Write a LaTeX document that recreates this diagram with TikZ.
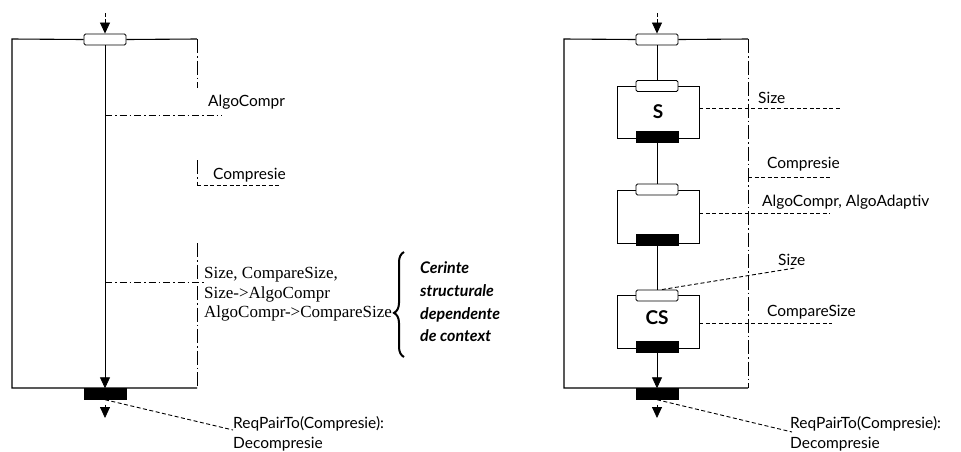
\documentclass[tikz,border=0pt]{standalone}
\usepackage{fontspec}
\setmainfont{Lato}
\newfontfamily\serifa{Liberation Serif}
\usetikzlibrary{arrows.meta,decorations.pathreplacing,calc}
\begin{document}
\begin{tikzpicture}[x=1pt,y=-1pt,
  inport/.style={draw,fill=white,rounded corners=1.5pt,minimum width=42pt,minimum height=11pt,inner sep=0pt,line width=0.9pt},
  outport/.style={fill=black,draw=black,minimum width=42pt,minimum height=11pt,inner sep=0pt},
  comp/.style={draw,minimum width=82pt,minimum height=52pt,inner sep=0pt,line width=0.9pt,font=\bfseries\fontsize{19}{20}\selectfont},
  lbl/.style={anchor=base west,inner sep=0pt,font=\fontsize{15.5}{18}\selectfont},
  slbl/.style={anchor=base west,inner sep=0pt,font=\serifa\fontsize{17}{18}\selectfont},
  ilbl/.style={anchor=base west,inner sep=0pt,font=\itshape\bfseries\fontsize{16}{18}\selectfont},
  frame/.style={line width=1.1pt},
  edgeR/.style={line width=0.7pt,dash pattern=on 14pt off 3pt on 1.5pt off 3pt},
  conn/.style={line width=0.8pt},
  flow/.style={line width=0.8pt,-{Triangle[width=10pt,length=11pt]}},
  dsh/.style={line width=0.9pt,dash pattern=on 4pt off 2.5pt},
  ddl/.style={line width=0.6pt,dash pattern=on 7pt off 3pt on 1.5pt off 3pt},
]
\useasboundingbox (0,0) rectangle (961,451);

% ---------------- left diagram ----------------
\coordinate (lTL) at (12,39);
\coordinate (lBL) at (12,388);
\coordinate (lBR) at (197,388);
\coordinate (lTR) at (197,39);
\node[inport] (ltop) at (105,39.5) {};
\node[outport] (lbot) at (105,394) {};
\coordinate (lin) at (105,13);
\coordinate (lout) at (105,418);

\draw[frame] (ltop.west) -- (lTL) -- (lBL) -- (lBR);
\draw[frame] (ltop.east) -- (lTR);
\draw[edgeR] (lTR) -- (197,88);
\draw[edgeR] (197,160) -- (197,186);
\draw[edgeR] (197,243) -- (lBR);
\node[outport] at (lbot) {};

\draw[flow,dash pattern=on 4pt off 2pt] (lin) -- (ltop.north);
\draw[flow] (ltop.south) -- (lbot.north);
\draw[flow,shorten <=5pt] (lbot.south) -- (lout);

\coordinate (lj1) at (105,115);
\coordinate (la1) at (222,115);
\draw[ddl] (lj1) -- (la1);
\node[lbl] (lalgo) at (208,106) {AlgoCompr};

\coordinate (lc1) at (197,185);
\coordinate (lc2) at (280,185);
\draw[dsh] (lc1) -- (lc2);
\node[lbl] (lcomp) at (213,179) {Compresie};

\coordinate (lj2) at (105,282);
\coordinate (ls1) at (205,282);
\draw[ddl] (lj2) -- (ls1);
\node[slbl] (lsz1) at (204,278) {Size, CompareSize,};
\node[slbl] (lsz2) at (204,298) {Size->AlgoCompr};
\node[slbl] (lsz3) at (204,317) {AlgoCompr->CompareSize};

\coordinate (bb) at (404,357);
\coordinate (bt) at (404,252);
\draw[line width=2pt,decorate,decoration={brace,amplitude=10pt,aspect=0.42}] (bb) -- (bt);
\node[ilbl] (ce1) at (420,273) {Cerinte};
\node[ilbl] (ce2) at (420,296) {structurale};
\node[ilbl] (ce3) at (420,319) {dependente};
\node[ilbl] (ce4) at (420,341) {de context};

\coordinate (lq) at (233,430);
\draw[dsh] (lbot.south) -- (lq);
\node[lbl] (lreq) at (233,428) {ReqPairTo(Compresie):};
\node[lbl] (ldec) at (233,448) {Decompresie};

% ---------------- right diagram ----------------
\coordinate (rTL) at (564,39);
\coordinate (rBL) at (564,388);
\coordinate (rBR) at (748,388);
\coordinate (rTR) at (748,39);
\node[inport] (rtop) at (657,39.5) {};
\node[outport] (rbot) at (657,394) {};
\coordinate (rin) at (657,13);
\coordinate (rout) at (657,418);

\draw[frame] (rtop.west) -- (rTL) -- (rBL) -- (rBR);
\draw[frame] (rtop.east) -- (rTR);
\draw[edgeR] (rTR) -- (rBR);
\node[outport] at (rbot) {};

\node[comp] (sbox) at (658,112) {S};
\node[inport] (sin) at (657,86) {};
\node[outport] (sout) at (657,137) {};

\node[comp,minimum height=53pt] (abox) at (658,216.5) {};
\node[inport] (ain) at (657,189.5) {};
\node[outport] (aout) at (657,240) {};

\node[comp,minimum height=53pt] (csbox) at (658,321.5) {};
\node[font=\bfseries\fontsize{19}{20}\selectfont] (cslbl) at (657,318) {CS};
\node[inport] (csin) at (657,295.5) {};
\node[outport] (csout) at (657,347) {};

\draw[flow,dash pattern=on 4pt off 2pt] (rin) -- (rtop.north);
\draw[conn] (rtop.south) -- (sin.north);
\draw[conn] (sout.south) -- (ain.north);
\draw[conn] (aout.south) -- (csin.north);
\draw[flow] (csout.south) -- (rbot.north);
\draw[flow,shorten <=5pt] (rbot.south) -- (rout);

\coordinate (rs1) at (842,108);
\draw[dsh] (sbox.east |- rs1) -- (rs1);
\node[lbl] (rsize) at (758,103) {Size};

\coordinate (rc1) at (748,177);
\coordinate (rc2) at (832,177);
\draw[dsh] (rc1) -- (rc2);
\node[lbl] (rcomp) at (767,168) {Compresie};

\coordinate (ra1) at (830,213);
\draw[dsh] (abox.east |- ra1) -- (ra1);
\node[lbl] (ralgo) at (762,206) {AlgoCompr, AlgoAdaptiv};

\coordinate (rsz) at (795,268);
\draw[dsh] ([xshift=5pt]csin.north) -- (rsz);
\node[lbl] (rsize2) at (778,265) {Size};

\coordinate (rcs) at (832,323);
\draw[dsh] (csbox.east |- rcs) -- (rcs);
\node[lbl] (rcmp) at (767,316) {CompareSize};

\coordinate (rq) at (792,432);
\draw[dsh] (rbot.south) -- (rq);
\node[lbl] (rreq) at (790,428) {ReqPairTo(Compresie):};
\node[lbl] (rdec) at (790,448) {Decompresie};
\end{tikzpicture}
\end{document}
